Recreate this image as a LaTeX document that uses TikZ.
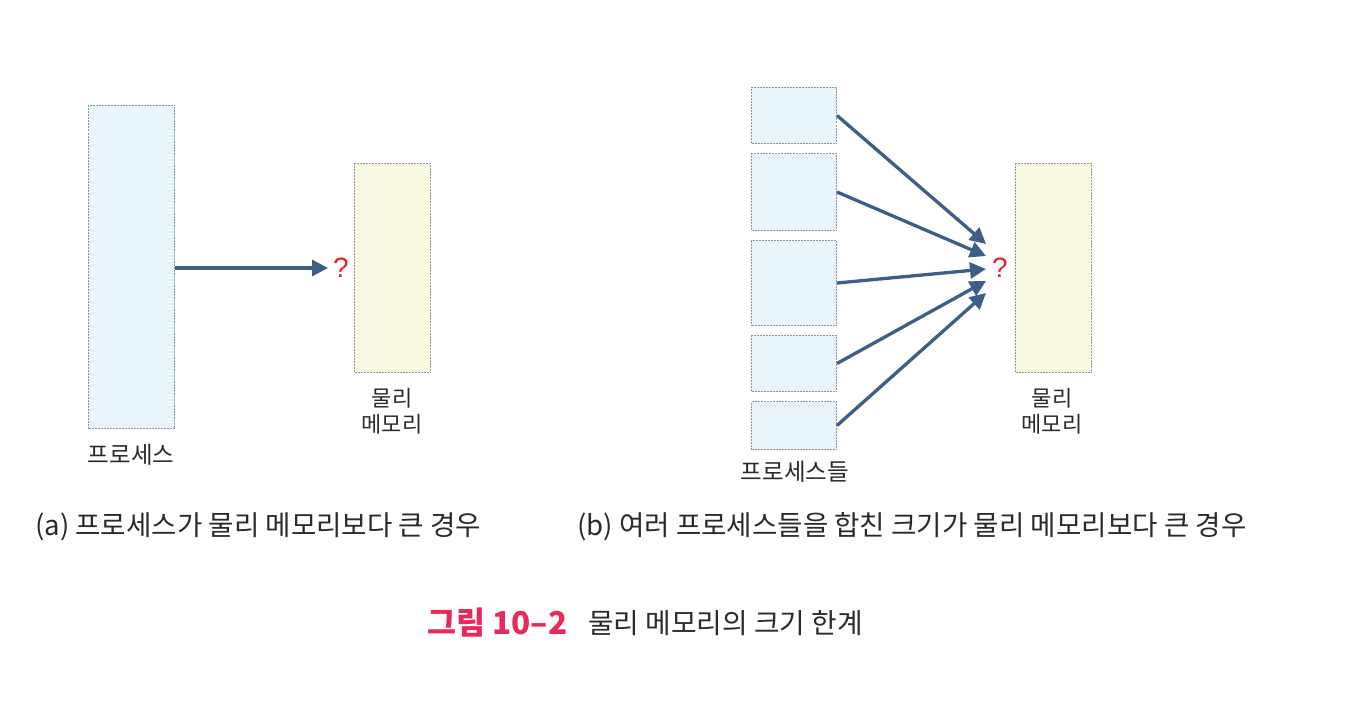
\documentclass[tikz,border=0pt]{standalone}
\usepackage{fontspec}
\setmainfont{Noto Sans CJK KR}
\newfontfamily\qfont{Liberation Sans}
\usetikzlibrary{arrows.meta}
\definecolor{procfill}{HTML}{E9F5FA}
\definecolor{memfill}{HTML}{FAFAE3}
\definecolor{boxline}{HTML}{8A96A2}
\definecolor{arrowblue}{HTML}{3E5E8A}
\definecolor{qred}{HTML}{E8202A}
\definecolor{capred}{HTML}{E62A5C}
\definecolor{txt}{HTML}{2A2A2A}
\tikzset{
  procbox/.style={draw=boxline, fill=procfill, dashed, dash pattern=on 2pt off 1pt, line width=1pt, inner sep=0pt, anchor=north west},
  membox/.style={draw=boxline, fill=memfill, dashed, dash pattern=on 2pt off 1pt, line width=1pt, inner sep=0pt, anchor=north west},
  conn/.style={draw=arrowblue, line width=3.3pt, -{Triangle[length=16pt,width=16pt]}},
  qmark/.style={text=qred, font=\qfont\fontsize{28}{30}\selectfont, inner sep=0pt},
  lbl/.style={text=txt, font=\fontsize{22}{26}\selectfont, align=center, inner sep=0pt},
  captxt/.style={text=txt, font=\fontsize{27.6}{30}\selectfont, inner sep=0pt, anchor=west},
}
\begin{document}
\begin{tikzpicture}[x=1pt,y=-1pt]
\useasboundingbox (0,0) rectangle (1372,706);
% (a)
\node[procbox, minimum width=86pt, minimum height=323pt] (pa) at (88,105) {};
\node[membox, minimum width=76pt, minimum height=209pt] (ma) at (354,163) {};
\node[qmark] (qa) at (341,268) {?};
\draw[conn] (pa.east |- qa) -- (328,268);
\node[lbl, font=\fontsize{23.5}{26}\selectfont] (lpa) at (131,455) {프로세스};
\node[lbl] (lma) at (392,411) {물리\\메모리};
% (b)
\node[procbox, minimum width=85pt, minimum height=56pt] (b1) at (751,87) {};
\node[procbox, minimum width=85pt, minimum height=77pt] (b2) at (751,153) {};
\node[procbox, minimum width=85pt, minimum height=85pt] (b3) at (751,240) {};
\node[procbox, minimum width=85pt, minimum height=56pt] (b4) at (751,335) {};
\node[procbox, minimum width=85pt, minimum height=48pt] (b5) at (751,401) {};
\node[membox, minimum width=76pt, minimum height=209pt] (mb) at (1015,163) {};
\node[qmark] (qb) at (1000,268) {?};
\coordinate (t1) at (986,244);
\coordinate (t2) at (986,256);
\coordinate (t3) at (986,269);
\coordinate (t4) at (986,281);
\coordinate (t5) at (986,293);
\draw[conn] (b1.east) -- (t1);
\draw[conn] (b2.east) -- (t2);
\draw[conn] (b3.east) -- (t3);
\draw[conn] (b4.east) -- (t4);
\draw[conn] (b5.east) -- (t5);
\node[lbl, font=\fontsize{23.5}{26}\selectfont] (lpb) at (795,472) {프로세스들};
\node[lbl] (lmb) at (1052,411) {물리\\메모리};
% captions
\node[captxt] (capa) at (35,527) {(a) 프로세스가 물리 메모리보다 큰 경우};
\node[captxt] (capb) at (577,527) {(b) 여러 프로세스들을 합친 크기가 물리 메모리보다 큰 경우};
\node[captxt, text=capred, font=\fontsize{31.5}{33}\selectfont\bfseries] (fig) at (427,623) {그림 10–2};
\node[captxt, font=\fontsize{27.8}{30}\selectfont] (figt) at (588,623) {물리 메모리의 크기 한계};
\end{tikzpicture}
\end{document}
